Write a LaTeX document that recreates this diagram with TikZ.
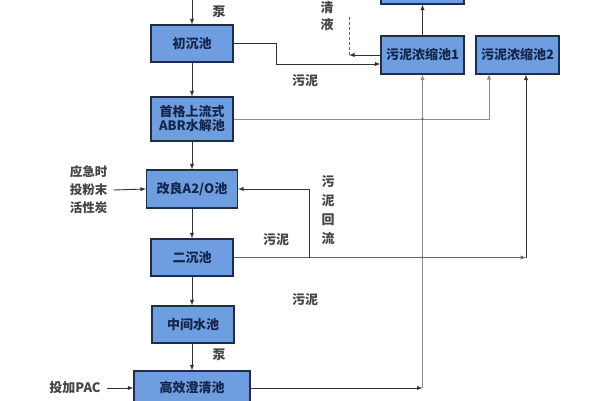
\documentclass[tikz,border=0pt]{standalone}
\usepackage{fontspec}
\setmainfont{Noto Sans CJK SC}
\definecolor{poolfill}{HTML}{6F9EE0}
\definecolor{poolline}{HTML}{1E2D4A}
\definecolor{pooltext}{HTML}{14264A}
\definecolor{labeltext}{HTML}{454545}
\tikzset{
  pool/.style={draw=poolline,fill=poolfill,line width=1.1pt,inner sep=0,minimum width=82pt,minimum height=37pt,align=center,text=pooltext,font=\fontsize{13}{16}\selectfont\bfseries},
  lab/.style={inner sep=0,align=center,text=labeltext,font=\fontsize{13}{19}\selectfont\bfseries},
  pipe/.style={draw=black!80,line width=0.9pt,-latex},
  grpipe/.style={draw=black!45,line width=0.9pt,-latex}
}
\begin{document}
\begin{tikzpicture}[x=1pt,y=-1pt]
\useasboundingbox[fill=white](0,0)rectangle(600,400);
% main line
\node[pool](chu)at(192,43.5){初沉池};
\node[pool,minimum height=44pt](abr)at(192,119){首格上流式\\[-2pt]ABR水解池};
\node[pool,minimum width=91pt,minimum height=38pt](ao)at(192,189){改良A2/O池};
\node[pool](er)at(192,257.5){二沉池};
\node[pool](zj)at(193,324.5){中间水池};
\node[pool,minimum width=116pt,minimum height=34pt](gx)at(192,388){高效澄清池};
% sludge side
\node[pool,minimum width=83pt,minimum height=38pt](nsa)at(422.5,55){污泥浓缩池1};
\node[pool,minimum width=83pt,minimum height=38pt](nsb)at(517.5,55){污泥浓缩池2};
\node[pool,minimum width=83pt,minimum height=38pt](top)at(422.5,-15){};
% labels
\node[lab](bengA)at(219,12){泵};
\node[lab](bengB)at(219,355){泵};
\node[lab,font=\fontsize{13}{17}\selectfont\bfseries](qingye)at(327,16){清\\液};
\node[lab](wnA)at(305,81){污泥};
\node[lab](wnB)at(276,240){污泥};
\node[lab](wnC)at(305,300){污泥};
\node[lab](huiliu)at(328,210){污\\泥\\回\\流};
\node[lab,font=\fontsize{12.5}{18}\selectfont\bfseries](tan)at(88.5,190){应急时\\投粉末\\活性炭};
\node[lab](pac)at(75,388){投加PAC};
% coordinates
\coordinate(in)at(192,-5);
\coordinate(a1)at(276,64);
\coordinate(qy)at(349,55);
\coordinate(qytop)at(349,17);
\coordinate(b2)at(489,74);
\coordinate(c1)at(422.5,388);
\coordinate(c2)at(526,257.5);
\coordinate(r1)at(309,257.5);
\coordinate(j1)at(422.5,119);
\coordinate(j2)at(422.5,257.5);
% flow down the main line
\draw[pipe](in)--(chu);
\draw[pipe](chu)--(abr);
\draw[pipe](abr)--(ao);
\draw[pipe](ao)--(er);
\draw[pipe](er.south)--(er.south|-zj.north);
\draw[pipe](zj.south-|gx.north)--(gx);
\draw[pipe](tan.east)++(6,0)--(ao.west);
\draw[pipe](pac.east)++(6,0)--(gx.west);
% sludge lines
\draw[pipe](chu.east)-|(a1)--(a1-|nsa.west);
\draw[pipe](nsa.west)--(qy);
\draw[black!60,densely dashed,line width=0.8pt](qy)--(qytop);
\draw[pipe](nsa)--(top);
\draw[grpipe](abr.east)-|(b2);
\draw[pipe](gx.east|-c1)--(c1);
\draw[grpipe](c1)--(nsa.south);
\draw[draw=black!60,line width=0.9pt,-latex](er.east)--(c2);
\draw[pipe](c2)--(c2|-nsb.south);
\draw[pipe](r1)|-(ao.east);
\fill[black!55](j1)circle(1.3)(j2)circle(1.3);
\end{tikzpicture}
\end{document}
